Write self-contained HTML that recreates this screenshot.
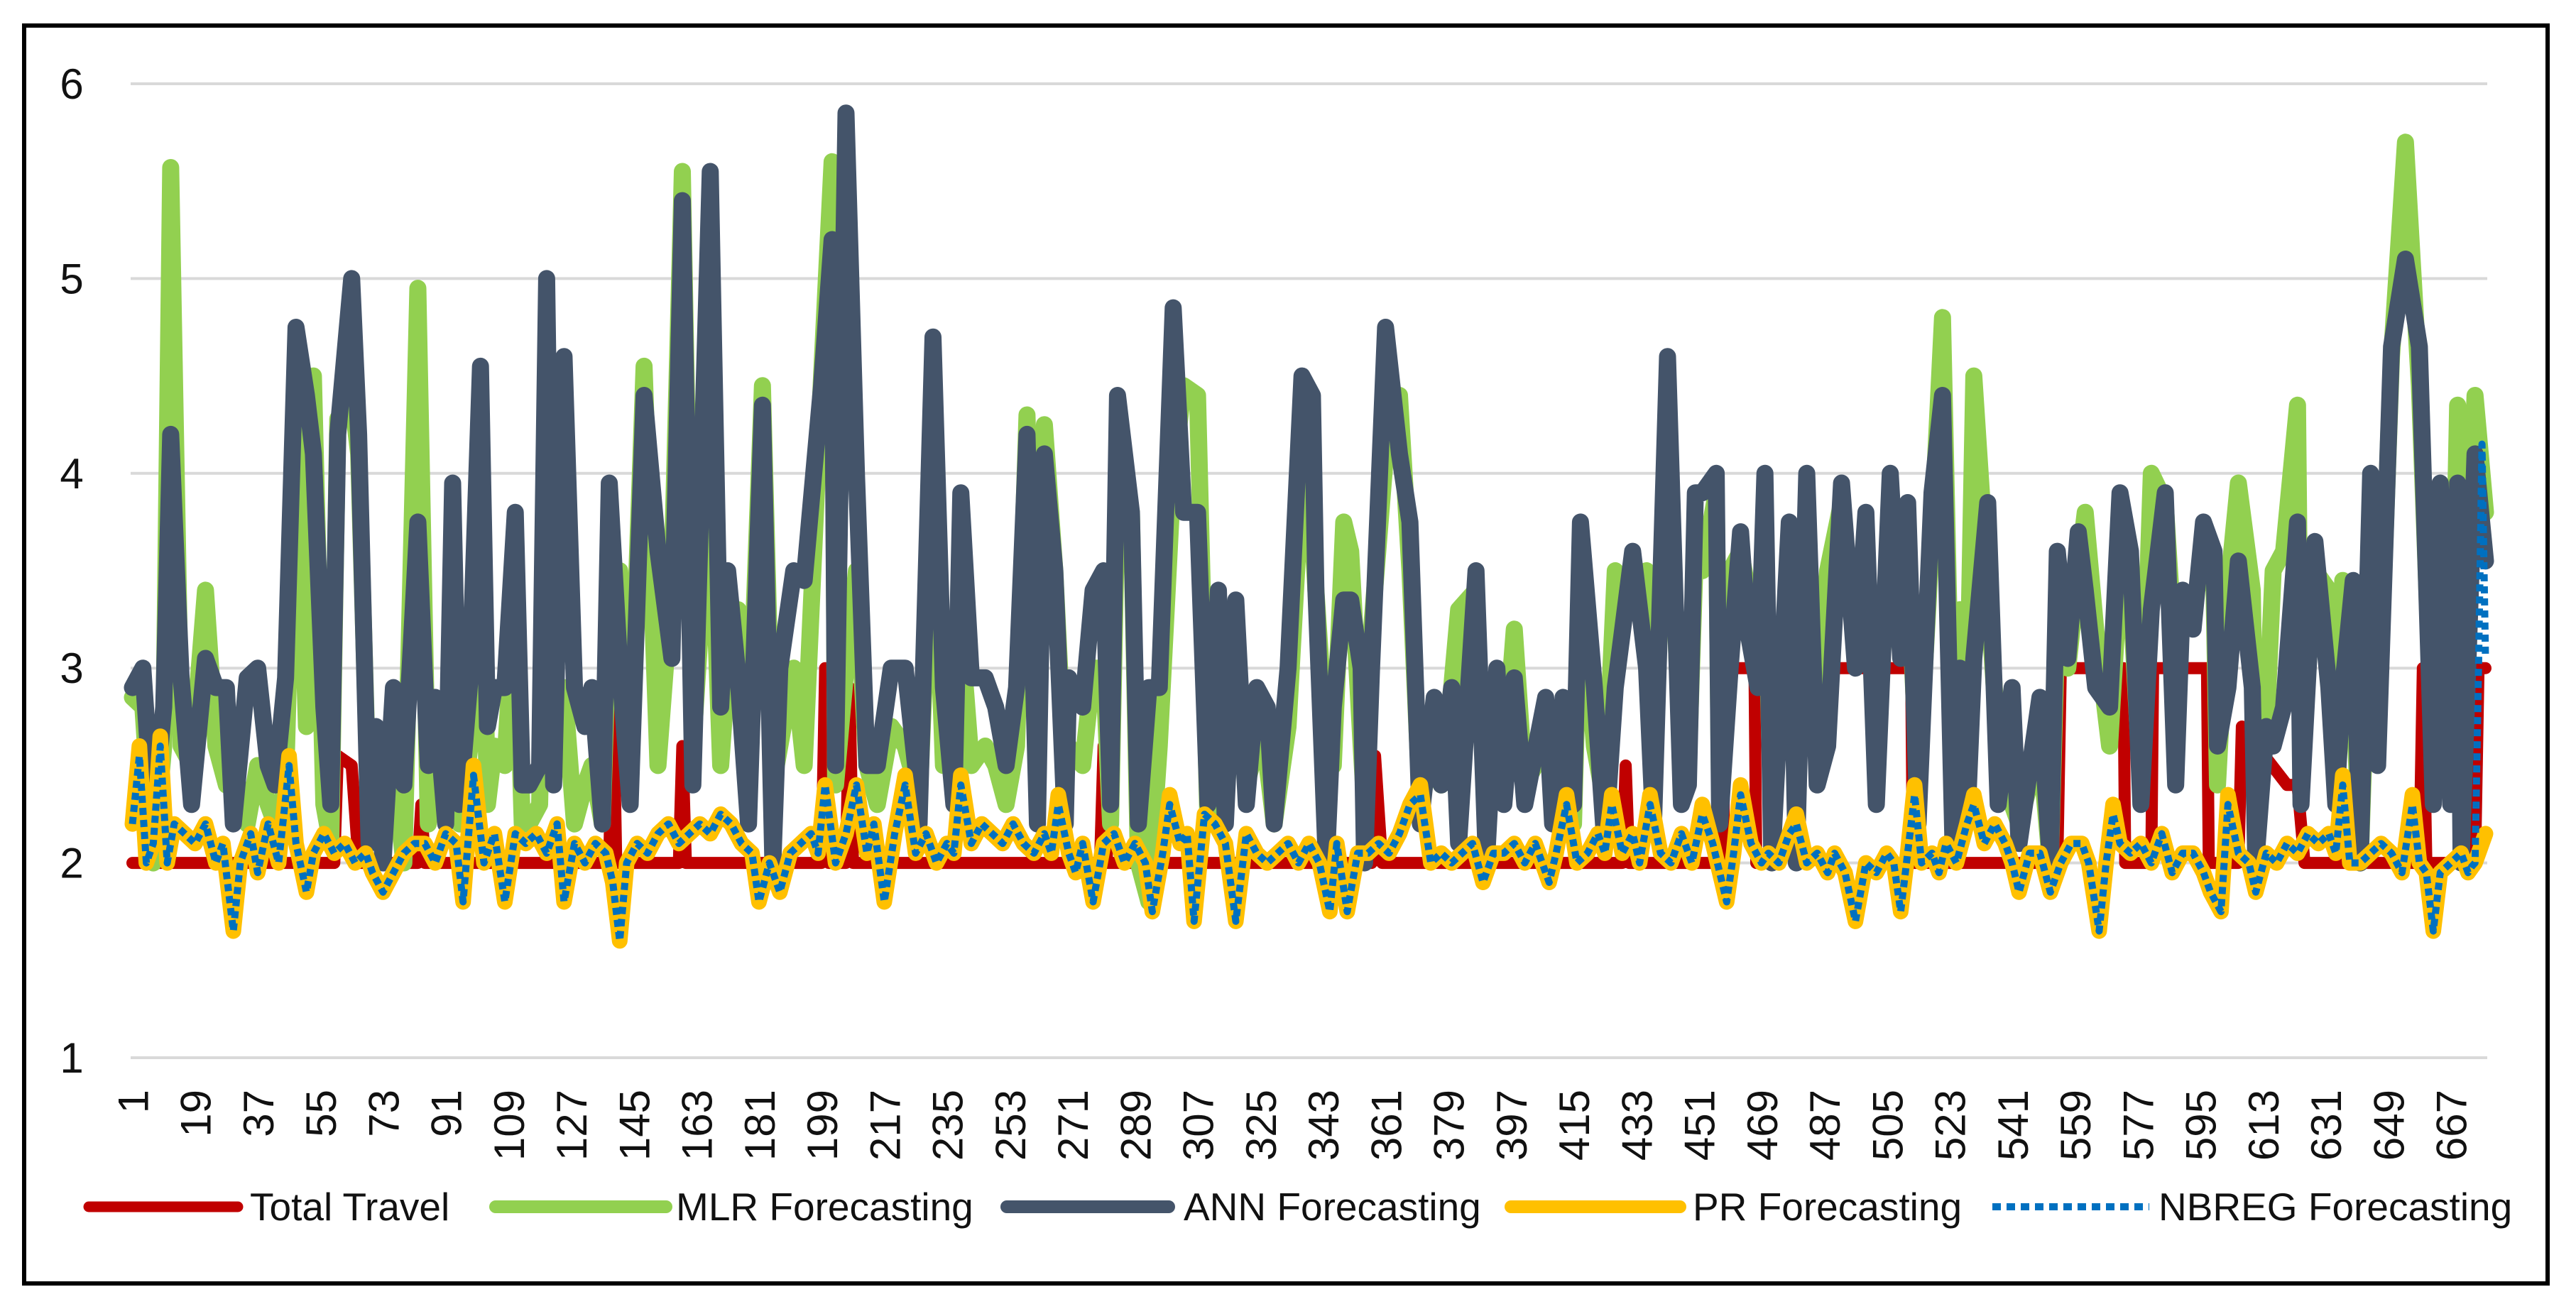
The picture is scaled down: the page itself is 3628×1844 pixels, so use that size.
<!DOCTYPE html>
<html><head><meta charset="utf-8"><style>
html,body{margin:0;padding:0;background:#fff;}
svg{display:block;font-family:"Liberation Sans",Arial,sans-serif;}
</style></head><body>
<svg id="chart" width="3628" height="1844" viewBox="0 0 3628 1844" xmlns="http://www.w3.org/2000/svg">
<rect x="34" y="36" width="3554" height="1772" fill="#fff" stroke="#000" stroke-width="6"/>
<g id="grid"></g>
<g id="ylabels"></g>
<g id="xlabels"></g>
<g id="series"></g>
<g id="legend">
  <g>
    <line x1="125" y1="1700" x2="335" y2="1700" stroke="#c00000" stroke-width="15" stroke-linecap="round"/>
    <text x="352" y="1719" font-size="55" fill="#111">Total Travel</text>
  </g>
  <g>
    <line x1="698" y1="1700" x2="938" y2="1700" stroke="#92d050" stroke-width="18" stroke-linecap="round"/>
    <text x="952" y="1719" font-size="55" fill="#111">MLR Forecasting</text>
  </g>
  <g>
    <line x1="1418" y1="1700" x2="1646" y2="1700" stroke="#44546a" stroke-width="18" stroke-linecap="round"/>
    <text x="1667" y="1719" font-size="55" fill="#111">ANN Forecasting</text>
  </g>
  <g>
    <line x1="2128" y1="1700" x2="2366" y2="1700" stroke="#ffc000" stroke-width="18" stroke-linecap="round"/>
    <text x="2384" y="1719" font-size="55" fill="#111">PR Forecasting</text>
  </g>
  <g>
    <line x1="2806" y1="1700" x2="3027" y2="1700" stroke="#0070c0" stroke-width="10" stroke-dasharray="12 8"/>
    <text x="3040" y="1719" font-size="55" fill="#111">NBREG Forecasting</text>
  </g>
</g>
</svg>
<script>
const yTicks = [1,2,3,4,5,6];
const xTickLabels = [1,19,37,55,73,91,109,127,145,163,181,199,217,235,253,271,289,307,325,343,361,379,397,415,433,451,469,487,505,523,541,559,577,595,613,631,649,667];
const nCats = 677;

const ttCats = [1,59,60,64,66,83,84,85,138,139,140,158,159,160,199,200,201,206,207,208,279,280,281,357,358,360,429,430,431,458,458.5,467,467.5,472,472.5,512,512.5,554,555,573,573.5,581,581.5,597,597.5,606,607,620,623,625,658,659,660,674,675,677];
const ttVals = [2,2,2.55,2.5,2,2,2.3,2,2,3,2,2,2.6,2,2,3,2,2,2.9,2,2,2.6,2,2,2.55,2,2,2.5,2,2,3,3,2,2,3,3,2,2,3,3,2,2,3,3,2,2,2.7,2.4,2.4,2,2,3,2,2,3,3];

const mdlCats = [1,4,7,10,12,15,18,22,25,28,30,34,37,40,42,45,48,51,53,56,58,60,64,66,69,71,73,76,79,83,86,88,91,93,95,98,101,103,105,108,111,113,
115,118,120,122,125,128,131,133,136,138,141,144,148,152,156,159,162,167,170,172,175,178,182,185,187,191,194,199,202,203,206,209,212,215,219,223,226,
227,231,234,237,239,242,246,249,252,255,258,261,263,266,269,270,274,277,280,282,284,288,290,293,296,300,303,307,310,313,315,318,321,324,327,329,333,
337,340,341,344,346,349,351,354,355,357,361,365,368,371,375,377,380,382,387,390,393,395,398,401,407,409,412,415,417,421,424,427,432,436,438,442,446,448,
450,452,456,457,460,463,465,468,470,472,477,479,482,485,488,492,496,499,502,506,509,511,514,518,521,524,526,528,530,534,537,541,543,549,552,554,557,560,
562,565,569,572,575,578,581,585,588,590,593,596,599,600,603,606,610,611,614,616,619,623,624,628,632,634,636,639,641,644,646,650,654,658,662,664,667,669,670,674,677];
const annVals = [2.9,3.0,2.2,2.8,4.2,2.95,2.3,3.05,2.9,2.9,2.2,2.95,3.0,2.5,2.4,2.95,4.75,4.4,4.1,2.8,2.3,4.2,5.0,4.2,2.1,2.7,2.0,2.9,2.4,3.75,2.5,2.85,2.2,3.95,2.3,2.95,4.55,2.7,2.9,2.9,3.8,2.4,
2.4,2.5,5.0,2.4,4.6,2.9,2.7,2.9,2.2,3.95,3.0,2.3,4.4,3.6,3.05,5.4,2.4,5.55,2.8,3.5,2.95,2.2,4.35,2.0,3.0,3.5,3.45,4.45,5.2,2.5,5.85,4.0,2.5,2.5,3.0,3.0,2.5,
2.2,4.7,2.9,2.3,3.9,2.95,2.95,2.8,2.5,2.9,4.2,2.2,4.1,3.5,2.2,2.95,2.8,3.4,3.5,2.3,4.4,3.8,2.2,2.9,2.9,4.85,3.8,3.8,2.3,3.4,2.2,3.35,2.3,2.9,2.8,2.2,3.0,
4.5,4.4,3.4,2.0,2.8,3.35,3.35,3.0,2.0,3.0,4.75,4.1,3.75,2.2,2.85,2.4,2.9,2.1,3.5,2.0,3.0,2.3,2.95,2.3,2.85,2.2,2.85,2.3,3.75,2.9,2.1,2.9,3.6,3.0,2.2,4.6,2.3,2.4,
3.9,3.9,4.0,2.2,3.0,3.7,3.2,2.9,4.0,2.0,3.75,2.0,4.0,2.4,2.6,3.95,3.0,3.8,2.3,4.0,3.05,3.85,2.2,3.9,4.4,2.1,3.0,2.2,3.05,3.85,2.3,2.9,2.1,2.85,2.0,3.6,3.05,3.7,
3.4,2.9,2.8,3.9,3.6,2.3,3.3,3.9,2.4,3.4,3.2,3.75,3.6,2.6,2.9,3.55,2.9,2.0,2.7,2.6,2.8,3.75,2.3,3.65,2.9,2.3,2.9,3.45,2.0,4.0,2.5,4.65,5.1,4.65,2.3,3.95,2.3,3.95,2.0,4.1,3.55];
const mlrVals = [2.85,2.8,2.0,2.6,5.57,2.6,2.5,3.4,2.6,2.4,2.5,2.2,2.5,2.3,2.2,2.4,4.4,2.7,4.5,2.3,2.1,4.28,4.4,4.1,2.2,2.4,2.1,2.5,2.0,4.95,2.2,2.6,2.3,3.4,2.2,2.6,4.2,2.3,2.6,2.5,3.4,2.2,
2.2,2.3,4.0,2.9,2.9,2.2,2.4,2.5,2.2,3.4,3.5,2.5,4.55,2.5,3.45,5.55,2.6,4.0,2.5,3.0,3.3,2.5,4.45,2.4,2.6,3.0,2.5,4.5,5.6,2.4,3.0,3.5,2.5,2.3,2.7,2.6,2.4,
2.3,4.0,2.5,2.5,3.2,2.5,2.6,2.5,2.3,2.6,4.3,2.4,4.25,3.5,2.4,2.6,2.5,3.0,3.0,2.2,4.0,3.8,2.0,1.8,2.6,4.0,4.45,4.4,2.2,3.0,2.3,3.0,2.4,2.6,2.5,2.2,2.7,
4.0,3.7,3.4,2.6,2.5,3.75,3.6,2.6,2.3,3.2,4.1,4.4,3.5,2.3,2.6,2.4,2.9,3.3,3.4,2.1,2.8,2.5,3.2,2.4,2.6,2.5,2.6,2.2,3.5,2.6,2.3,3.5,3.3,3.5,2.6,4.2,2.5,2.5,
3.6,3.5,3.9,2.3,3.5,3.6,3.4,3.2,3.6,2.2,3.45,2.3,3.7,2.6,3.5,3.85,3.1,3.6,2.5,3.8,3.2,3.55,2.4,3.7,4.8,2.3,3.3,2.6,4.5,3.4,2.6,2.3,2.2,2.6,2.0,3.3,3.0,3.5,
3.8,3.2,2.6,3.5,3.4,2.4,4.0,3.85,3.0,3.3,3.3,3.6,3.4,2.4,3.4,3.95,3.4,2.3,2.7,3.5,3.6,4.35,2.5,3.5,3.4,2.6,3.45,3.0,2.0,3.6,2.6,4.6,5.7,4.45,2.5,3.6,2.6,4.35,2.5,4.4,3.8];

const prCats = [1,3,5,7,9,11,13,16,19,22,25,27,30,32,35,37,40,43,46,48,51,53,56,59,62,65,68,70,73,76,79,82,85,88,91,94,96,99,102,105,108,111,114,117,120,123,125,128,131,134,137,139,141,143,146,149,152,155,158,161,164,167,170,173,176,179,181,184,187,190,193,196,198,200,203,206,209,212,214,217,220,223,226,229,232,235,237,239,242,245,248,251,254,257,260,263,265,267,270,272,274,277,280,283,286,289,292,294,297,299,302,304,306,309,312,315,318,321,324,327,330,333,336,339,342,345,347,350,353,356,359,362,365,368,371,374,377,380,383,386,389,392,395,398,401,404,406,408,410,413,416,419,422,424,426,429,432,434,437,440,443,446,449,452,455,457,459,461,463,466,469,471,474,477,479,482,485,488,490,493,496,499,502,505,507,509,511,513,515,518,520,522,525,528,530,533,536,539,541,543,546,549,552,555,558,561,563,566,568,570,572,575,578,581,584,587,590,593,596,598,601,603,606,609,611,614,617,620,623,626,629,632,634,636,638,641,644,647,650,653,656,658,660,662,664,667,670,672,674,677];
const prVals = [2.2,2.6,2.0,2.1,2.65,2.0,2.2,2.15,2.1,2.2,2.0,2.1,1.65,2.0,2.15,1.95,2.2,2.0,2.55,2.1,1.85,2.05,2.15,2.05,2.1,2.0,2.05,1.95,1.85,1.95,2.05,2.1,2.1,2.0,2.15,2.1,1.8,2.5,2.0,2.15,1.8,2.15,2.1,2.15,2.05,2.2,1.8,2.1,2.0,2.1,2.05,1.9,1.6,2.0,2.1,2.05,2.15,2.2,2.1,2.15,2.2,2.15,2.25,2.2,2.1,2.05,1.8,2.0,1.85,2.05,2.1,2.15,2.05,2.4,2.0,2.15,2.4,2.05,2.2,1.8,2.15,2.45,2.05,2.15,2.0,2.1,2.05,2.45,2.1,2.2,2.15,2.1,2.2,2.1,2.05,2.15,2.05,2.35,2.05,1.95,2.1,1.8,2.1,2.15,2.0,2.1,2.0,1.75,2.05,2.35,2.1,2.15,1.7,2.25,2.2,2.1,1.7,2.15,2.05,2.0,2.05,2.1,2.0,2.1,2.0,1.75,2.1,1.75,2.05,2.05,2.1,2.05,2.15,2.3,2.4,2.0,2.05,2.0,2.05,2.1,1.9,2.05,2.05,2.1,2.0,2.1,2.0,1.9,2.05,2.35,2.0,2.05,2.15,2.05,2.35,2.05,2.15,2.0,2.35,2.05,2.0,2.15,2.0,2.3,2.1,1.95,1.8,2.05,2.4,2.1,2.0,2.05,2.0,2.15,2.25,2.0,2.05,1.95,2.05,1.95,1.7,2.0,1.95,2.05,2.0,1.75,2.05,2.4,2.0,2.05,1.95,2.1,2.0,2.2,2.35,2.1,2.2,2.1,2.0,1.85,2.05,2.05,1.85,2.0,2.1,2.1,2.0,1.65,2.0,2.3,2.1,2.05,2.1,2.0,2.15,1.95,2.05,2.05,1.95,1.85,1.75,2.35,2.05,2.0,1.85,2.05,2.0,2.1,2.05,2.15,2.1,2.15,2.05,2.45,2.0,2.0,2.05,2.1,2.05,1.95,2.35,2.0,1.95,1.65,1.95,2.0,2.05,1.95,2.0,2.15];

const nbCats = [1,3,5,7,9,11,13,16,19,22,25,27,30,32,35,37,40,43,46,48,51,53,56,59,62,65,68,70,73,76,79,82,85,88,91,94,96,99,102,105,108,111,114,117,120,123,125,128,131,134,137,139,141,143,146,149,152,155,158,161,164,167,170,173,176,179,181,184,187,190,193,196,198,200,203,206,209,212,214,217,220,223,226,229,232,235,237,239,242,245,248,251,254,257,260,263,265,267,270,272,274,277,280,283,286,289,292,294,297,299,302,304,306,309,312,315,318,321,324,327,330,333,336,339,342,345,347,350,353,356,359,362,365,368,371,374,377,380,383,386,389,392,395,398,401,404,406,408,410,413,416,419,422,424,426,429,432,434,437,440,443,446,449,452,455,457,459,461,463,466,469,471,474,477,479,482,485,488,490,493,496,499,502,505,507,509,511,513,515,518,520,522,525,528,530,533,536,539,541,543,546,549,552,555,558,561,563,566,568,570,572,575,578,581,584,587,590,593,596,598,601,603,606,609,611,614,617,620,623,626,629,632,634,636,638,641,644,647,650,653,656,658,660,662,664,667,670,672,673,674,675,676,677];
const nbVals = [2.2,2.55,2.0,2.1,2.6,2.0,2.2,2.15,2.1,2.2,2.0,2.1,1.65,2.0,2.15,1.95,2.2,2.0,2.5,2.1,1.85,2.05,2.15,2.05,2.1,2.0,2.05,1.95,1.85,1.95,2.05,2.1,2.1,2.0,2.15,2.1,1.8,2.45,2.0,2.15,1.8,2.15,2.1,2.15,2.05,2.2,1.8,2.1,2.0,2.1,2.05,1.9,1.6,2.0,2.1,2.05,2.15,2.2,2.1,2.15,2.2,2.15,2.25,2.2,2.1,2.05,1.8,2.0,1.85,2.05,2.1,2.15,2.05,2.4,2.0,2.15,2.4,2.05,2.2,1.8,2.15,2.4,2.05,2.15,2.0,2.1,2.05,2.4,2.1,2.2,2.15,2.1,2.2,2.1,2.05,2.15,2.05,2.3,2.05,1.95,2.1,1.8,2.1,2.15,2.0,2.1,2.0,1.75,2.05,2.3,2.1,2.15,1.7,2.25,2.2,2.1,1.7,2.15,2.05,2.0,2.05,2.1,2.0,2.1,2.0,1.75,2.1,1.75,2.05,2.05,2.1,2.05,2.15,2.3,2.35,2.0,2.05,2.0,2.05,2.1,1.9,2.05,2.05,2.1,2.0,2.1,2.0,1.9,2.05,2.3,2.0,2.05,2.15,2.05,2.3,2.05,2.15,2.0,2.3,2.05,2.0,2.15,2.0,2.25,2.1,1.95,1.8,2.05,2.35,2.1,2.0,2.05,2.0,2.15,2.2,2.0,2.05,1.95,2.05,1.95,1.7,2.0,1.95,2.05,2.0,1.75,2.05,2.35,2.0,2.05,1.95,2.1,2.0,2.2,2.3,2.1,2.2,2.1,2.0,1.85,2.05,2.05,1.85,2.0,2.1,2.1,2.0,1.65,2.0,2.25,2.1,2.05,2.1,2.0,2.15,1.95,2.05,2.05,1.95,1.85,1.75,2.3,2.05,2.0,1.85,2.05,2.0,2.1,2.05,2.15,2.1,2.15,2.05,2.4,2.0,2.0,2.05,2.1,2.05,1.95,2.3,2.0,1.95,1.65,1.95,2.0,2.05,1.95,1.98,2.0,3.0,4.15,3.05];

const NS = "http://www.w3.org/2000/svg";
const plotL = 184, plotR = 3503, yTop = 118, pxPerUnit = 274.4;
function xScale(c){ return plotL + (c - 0.5) * (plotR - plotL) / nCats; }
function yScale(v){ return yTop + (6 - v) * pxPerUnit; }
function mk(tag, attrs, parent){ const e = document.createElementNS(NS, tag); for (const k in attrs) e.setAttribute(k, attrs[k]); parent.appendChild(e); return e; }

const grid = document.getElementById('grid');
const ylab = document.getElementById('ylabels');
yTicks.forEach(t => {
  const gl = mk('line', {x1: plotL, x2: plotR, y1: yScale(t), y2: yScale(t), stroke: '#d9d9d9', 'stroke-width': 4}, grid);
  
  
  const tx = mk('text', {x: 101, y: yScale(t) + 21, 'text-anchor': 'middle', 'font-size': 60, fill: '#111'}, ylab);
  tx.textContent = t;
  
  
});

const xlab = document.getElementById('xlabels');
xTickLabels.forEach(c => {
  const x = xScale(c) + 22, y = 1535;
  const tx = mk('text', {x: x, y: y, 'text-anchor': 'end', 'font-size': 60, fill: '#111', transform: 'rotate(-90 ' + x + ' ' + y + ')'}, xlab);
  tx.textContent = c;
  
  
});

const series = document.getElementById('series');
function drawLine(cats, vals, color, width, name, dash){
  let d = '';
  for (let i = 0; i < cats.length; i++) d += (i ? 'L' : 'M') + xScale(cats[i]).toFixed(1) + ' ' + yScale(vals[i]).toFixed(1);
  const attrs = {d: d, fill: 'none', stroke: color, 'stroke-width': width, 'stroke-linejoin': 'round', 'stroke-linecap': dash ? 'butt' : 'round'};
  if (dash) attrs['stroke-dasharray'] = dash;
  const p = mk('path', attrs, series);
  
  
}
drawLine(ttCats, ttVals, '#c00000', 17, 'total-travel-line');
drawLine(mdlCats, mlrVals, '#92d050', 24, 'mlr-forecasting-line');
drawLine(mdlCats, annVals, '#44546a', 24, 'ann-forecasting-line');
drawLine(prCats, prVals, '#ffc000', 22, 'pr-forecasting-line');
drawLine(nbCats, nbVals, '#0070c0', 10, 'nbreg-forecasting-line', '10 7');
</script>
</body></html>
